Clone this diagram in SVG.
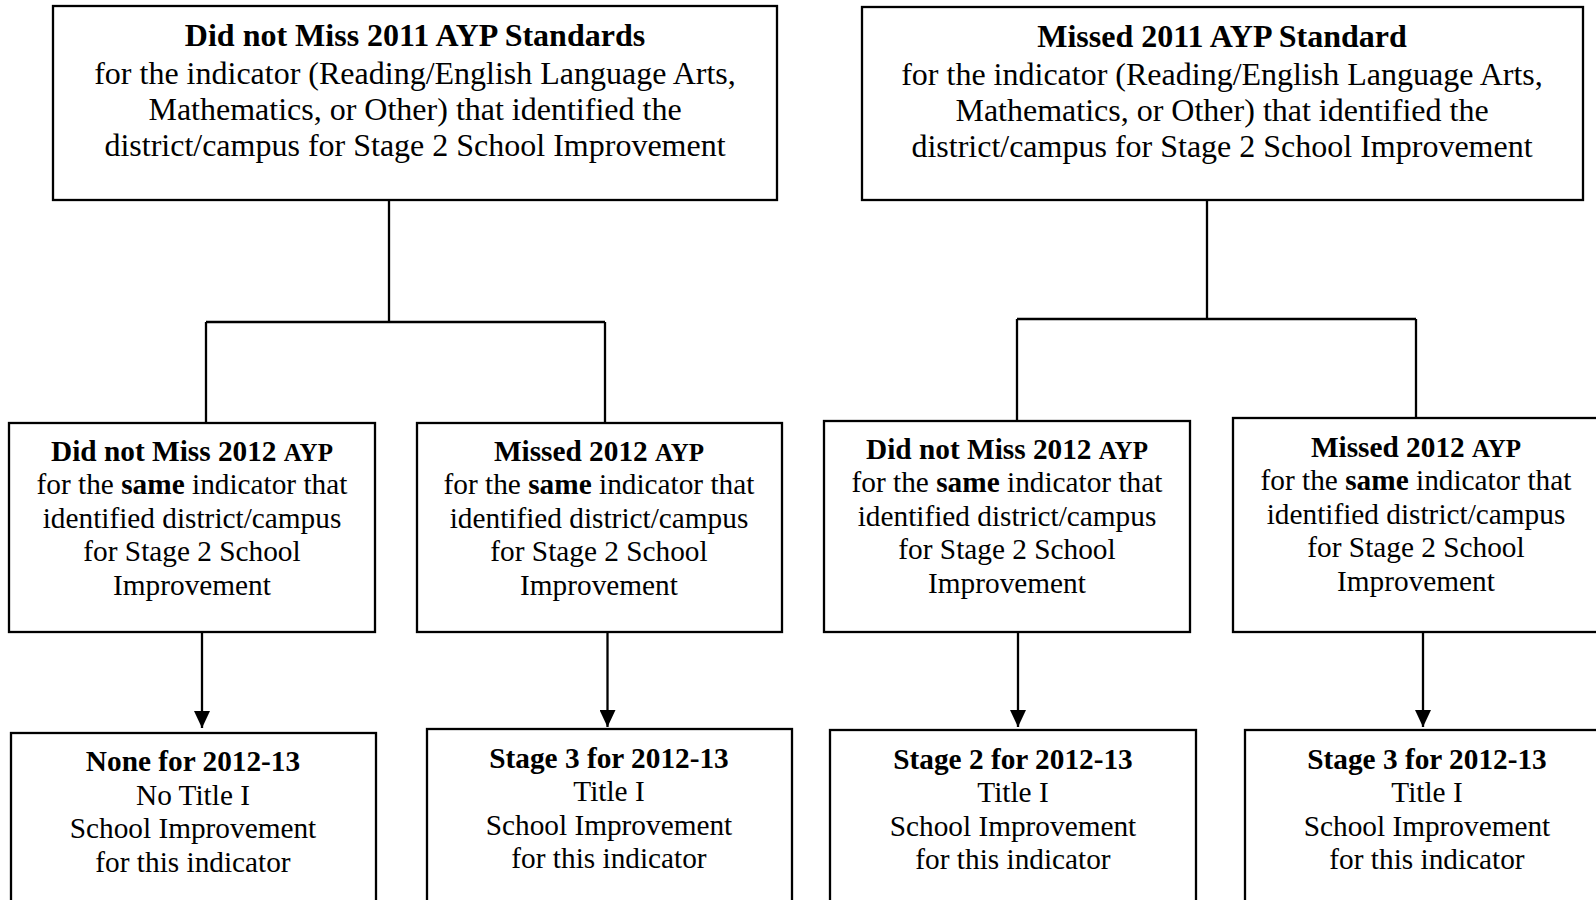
<svg xmlns="http://www.w3.org/2000/svg" width="1596" height="900" viewBox="0 0 1596 900">
<style>
  rect.box { fill: #fff; stroke: #000; stroke-width: 2.3; }
  .conn line, .conn path { stroke: #000; stroke-width: 2.3; fill: none; }
  text { font-family: "Liberation Serif", "Times New Roman", serif; fill: #000; text-anchor: middle; }
  .t1 { font-size: 32px; }
  .t2 { font-size: 29.3px; }
  .b { font-weight: bold; }
  .sm { font-size: 25px; font-weight: bold; }
</style>
<defs>
  <marker id="arr" markerWidth="17" markerHeight="16" refX="17" refY="8" orient="auto" markerUnits="userSpaceOnUse">
    <path d="M0,0 L17,8 L0,16 Z" fill="#000"/>
  </marker>
</defs>
<rect width="1596" height="900" fill="#fff"/>

<g class="conn" id="connectors">
  <path d="M389,200 V322 M206,322 H605 M206,322 V423 M605,322 V423"/>
  <path d="M1207,200 V319 M1017,319 H1416 M1017,319 V421 M1416,319 V418"/>
  <line x1="202" y1="632" x2="202" y2="728" marker-end="url(#arr)"/>
  <line x1="607.5" y1="632" x2="607.5" y2="727" marker-end="url(#arr)"/>
  <line x1="1018" y1="632" x2="1018" y2="727" marker-end="url(#arr)"/>
  <line x1="1423" y1="632" x2="1423" y2="727" marker-end="url(#arr)"/>
</g>

<g id="top-left">
  <rect class="box" x="53" y="6" width="724" height="194"/>
  <text class="t1" x="415" y="46"><tspan class="b">Did not Miss 2011 AYP Standards</tspan></text>
  <text class="t1" x="415" y="84">for the indicator (Reading/English Language Arts,</text>
  <text class="t1" x="415" y="120">Mathematics, or Other) that identified the</text>
  <text class="t1" x="415" y="156">district/campus for Stage 2 School Improvement</text>
</g>

<g id="top-right">
  <rect class="box" x="862" y="7" width="721" height="193"/>
  <text class="t1" x="1222" y="47"><tspan class="b">Missed 2011 AYP Standard</tspan></text>
  <text class="t1" x="1222" y="85">for the indicator (Reading/English Language Arts,</text>
  <text class="t1" x="1222" y="121">Mathematics, or Other) that identified the</text>
  <text class="t1" x="1222" y="157">district/campus for Stage 2 School Improvement</text>
</g>

<g id="mid-1">
  <rect class="box" x="9" y="423" width="366" height="209"/>
  <text class="t2" x="192" y="461"><tspan class="b">Did not Miss 2012 </tspan><tspan class="sm">AYP</tspan></text>
  <text class="t2" x="192" y="494">for the <tspan class="b">same</tspan> indicator that</text>
  <text class="t2" x="192" y="528">identified district/campus</text>
  <text class="t2" x="192" y="561">for Stage 2 School</text>
  <text class="t2" x="192" y="595">Improvement</text>
</g>

<g id="mid-2">
  <rect class="box" x="417" y="423" width="365" height="209"/>
  <text class="t2" x="599" y="461"><tspan class="b">Missed 2012 </tspan><tspan class="sm">AYP</tspan></text>
  <text class="t2" x="599" y="494">for the <tspan class="b">same</tspan> indicator that</text>
  <text class="t2" x="599" y="528">identified district/campus</text>
  <text class="t2" x="599" y="561">for Stage 2 School</text>
  <text class="t2" x="599" y="595">Improvement</text>
</g>

<g id="mid-3">
  <rect class="box" x="824" y="421" width="366" height="211"/>
  <text class="t2" x="1007" y="459"><tspan class="b">Did not Miss 2012 </tspan><tspan class="sm">AYP</tspan></text>
  <text class="t2" x="1007" y="492">for the <tspan class="b">same</tspan> indicator that</text>
  <text class="t2" x="1007" y="526">identified district/campus</text>
  <text class="t2" x="1007" y="559">for Stage 2 School</text>
  <text class="t2" x="1007" y="593">Improvement</text>
</g>

<g id="mid-4">
  <rect class="box" x="1233" y="418" width="366" height="214"/>
  <text class="t2" x="1416" y="457"><tspan class="b">Missed 2012 </tspan><tspan class="sm">AYP</tspan></text>
  <text class="t2" x="1416" y="490">for the <tspan class="b">same</tspan> indicator that</text>
  <text class="t2" x="1416" y="524">identified district/campus</text>
  <text class="t2" x="1416" y="557">for Stage 2 School</text>
  <text class="t2" x="1416" y="591">Improvement</text>
</g>

<g id="bot-1">
  <rect class="box" x="11" y="733" width="365" height="180"/>
  <text class="t2 b" x="193" y="771">None for 2012-13</text>
  <text class="t2" x="193" y="805">No Title I</text>
  <text class="t2" x="193" y="838">School Improvement</text>
  <text class="t2" x="193" y="872">for this indicator</text>
</g>

<g id="bot-2">
  <rect class="box" x="427" y="729" width="365" height="184"/>
  <text class="t2 b" x="609" y="768">Stage 3 for 2012-13</text>
  <text class="t2" x="609" y="801">Title I</text>
  <text class="t2" x="609" y="835">School Improvement</text>
  <text class="t2" x="609" y="868">for this indicator</text>
</g>

<g id="bot-3">
  <rect class="box" x="830" y="730" width="366" height="183"/>
  <text class="t2 b" x="1013" y="769">Stage 2 for 2012-13</text>
  <text class="t2" x="1013" y="802">Title I</text>
  <text class="t2" x="1013" y="836">School Improvement</text>
  <text class="t2" x="1013" y="869">for this indicator</text>
</g>

<g id="bot-4">
  <rect class="box" x="1245" y="730" width="365" height="183"/>
  <text class="t2 b" x="1427" y="769">Stage 3 for 2012-13</text>
  <text class="t2" x="1427" y="802">Title I</text>
  <text class="t2" x="1427" y="836">School Improvement</text>
  <text class="t2" x="1427" y="869">for this indicator</text>
</g>
</svg>
